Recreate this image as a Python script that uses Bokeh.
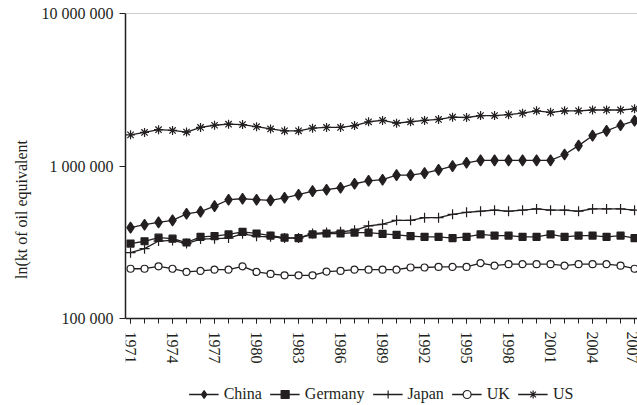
from bokeh.plotting import figure
from bokeh.models import (FixedTicker, Range1d, Legend, LegendItem, Span)
from bokeh.embed import file_html
from bokeh.resources import INLINE

years = list(range(1971, 2008))
china = [394, 412, 427, 440, 486, 502, 545, 601, 610, 601, 595, 619, 648, 684,
         699, 720, 765, 800, 813, 871, 871, 897, 944, 997, 1050, 1090,
         1090, 1090, 1090, 1090, 1090, 1190, 1360, 1580, 1700, 1850, 1980]
germany = [310, 321, 339, 334, 315, 343, 347, 356, 370, 361, 350, 339, 337, 356,
           361, 361, 366, 366, 359, 354, 347, 343, 343, 337, 343, 356,
           350, 350, 343, 343, 356, 343, 350, 350, 343, 350, 337]
japan = [270, 287, 322, 325, 310, 332, 334, 337, 359, 346, 343, 337, 337, 361,
         366, 370, 379, 405, 415, 440, 440, 458, 458, 482, 497, 505,
         513, 505, 513, 523, 513, 513, 505, 523, 523, 523, 513]
uk = [212, 212, 220, 212, 202, 205, 209, 209, 220, 202, 196, 192, 192, 192,
      203, 205, 209, 209, 209, 209, 216, 216, 218, 218, 218, 231,
      222, 227, 227, 227, 227, 222, 227, 227, 227, 222, 212]
us = [1600, 1660, 1730, 1710, 1670, 1790, 1850, 1880, 1870, 1810, 1750, 1700, 1700, 1770,
      1790, 1790, 1840, 1950, 1990, 1910, 1950, 1990, 2020, 2090, 2080, 2140,
      2140, 2170, 2220, 2300, 2250, 2300, 2300, 2330, 2330, 2330, 2370]
series_names = ["China", "Germany", "Japan", "UK", "US"]
series_values = [china, germany, japan, uk, us]
y_ticks = [100000, 1000000, 10000000]
y_tick_labels = ["100 000", "1 000 000", "10 000 000"]
x_label_years = list(range(1971, 2008, 3))

FONT = "Liberation Serif"
INK = "#231f20"

# frame runs to the bottom of the page; the value axis spans 1e5..1e7
# (152.5 px per decade) and the space below 1e5 holds axis labels and legend
Y_MIN, Y_MAX = y_ticks[0], y_ticks[-1]
y_start = Y_MIN / 10 ** (87 / 152.5)

p = figure(width=637, height=405, y_axis_type="log",
           x_range=Range1d(1970.64, 2007.21), y_range=Range1d(y_start, Y_MAX),
           output_backend="svg", toolbar_location=None,
           min_border_left=125, min_border_top=13, min_border_right=0,
           min_border_bottom=0)
p.outline_line_color = None
p.grid.visible = False
p.background_fill_color = "white"
p.border_fill_color = "white"

top = Span(location=Y_MAX, dimension="width", line_color="#9a9a9a", line_width=1)
p.add_layout(top)

markers = [
    dict(marker="diamond", size=11, fill_color=INK),
    dict(marker="square", size=7, fill_color=INK),
    dict(marker="cross", size=10, fill_color=INK),
    dict(marker="circle", size=7, fill_color="white"),
    dict(marker="asterisk", size=9, fill_color=INK),
]

items = []
for name, vals, m in zip(series_names, series_values, markers):
    yv = [v * 1000 for v in vals]
    ln = p.line(years, yv, line_color=INK, line_width=1.3)
    sc = p.scatter(years, yv, marker=m["marker"], size=m["size"],
                   fill_color=m["fill_color"], line_color=INK, line_width=1.2)
    items.append(LegendItem(label=name, renderers=[ln, sc]))

legend = Legend(items=items, orientation="horizontal", location="bottom",
                padding=0, margin=1, spacing=8, label_standoff=5,
                glyph_width=30, glyph_height=20, label_height=20,
                label_text_font=FONT, label_text_font_size="16px",
                label_text_color=INK, border_line_color=None,
                background_fill_alpha=0)
p.add_layout(legend)

xa = p.xaxis[0]
xa.fixed_location = Y_MIN
xa.ticker = FixedTicker(ticks=x_label_years, minor_ticks=years)
xa.major_label_orientation = "vertical"
xa.major_label_text_font = FONT
xa.major_label_text_font_size = "16px"
xa.major_label_text_color = INK
xa.major_tick_in = 0
xa.major_tick_out = 5
xa.minor_tick_in = 0
xa.minor_tick_out = 5
xa.major_label_standoff = 8
xa.axis_line_color = INK
xa.major_tick_line_color = INK
xa.minor_tick_line_color = INK
xa.axis_line_width = 1.5

ya = p.yaxis[0]
ya.bounds = (Y_MIN, Y_MAX)
ya.ticker = FixedTicker(ticks=y_ticks)
ya.major_label_overrides = {t: l for t, l in zip(y_ticks, y_tick_labels)}
ya.major_label_text_font = FONT
ya.major_label_text_font_size = "16px"
ya.major_label_text_color = INK
ya.major_tick_in = 0
ya.major_tick_out = 6
ya.minor_tick_line_color = None
ya.major_label_standoff = 6
ya.axis_line_color = INK
ya.major_tick_line_color = INK
ya.axis_line_width = 1.5
ya.axis_label = "ln(kt of oil equivalent"
ya.axis_label_text_font = FONT
ya.axis_label_text_font_size = "16px"
ya.axis_label_text_font_style = "normal"
ya.axis_label_text_color = INK
ya.axis_label_standoff = 9

open("out.html", "w").write(file_html(p, INLINE))
